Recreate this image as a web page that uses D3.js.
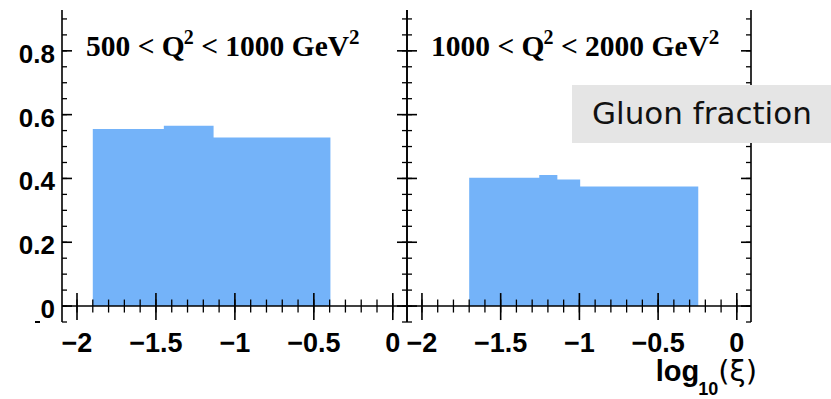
<!DOCTYPE html>
<html>
<head>
<meta charset="utf-8">
<script src="https://cdn.jsdelivr.net/npm/d3@7"></script>
<style>
  html, body { margin: 0; padding: 0; background: #fff; }
  svg { display: block; }
</style>
</head>
<body>
<svg id="chart" width="831" height="399"></svg>
<script>
// Bin edges in log10(xi) and gluon fraction per bin, one pair per Q^2 range
const lowQ2Edges = [-1.90, -1.45, -1.135, -0.395];
const lowQ2Fraction = [0.555, 0.565, 0.528];
const highQ2Edges = [-1.70, -1.255, -1.14, -0.995, -0.245];
const highQ2Fraction = [0.402, 0.411, 0.397, 0.375];

// Panel labels: [low, high] Q^2 bounds in GeV^2
const q2Ranges = [["500", "1000"], ["1000", "2000"]];

const xMajorTicks = [-2, -1.5, -1, -0.5, 0];
const xMinorTicks = d3.range(-20, 1).map(d => d / 10);
const yMajorTicks = [0, 0.2, 0.4, 0.6, 0.8];
const yMinorTicks = d3.range(-1, 19).map(d => d / 20);
const xTickLabels = ["\u22122", "\u22121.5", "\u22121", "\u22120.5", "0"];
const yTickLabels = ["0", "0.2", "0.4", "0.6", "0.8"];

const legendText = "Gluon fraction";
const barColor = "#74b3f9";

const svg = d3.select("#chart");

const xDomain = [-2.095, 0.09];
const y = d3.scaleLinear().domain([-0.05, 0.928]).range([322, 10]);

const panels = [
  { left: 62, right: 407, edges: lowQ2Edges, values: lowQ2Fraction, range: q2Ranges[0] },
  { left: 407, right: 751, edges: highQ2Edges, values: highQ2Fraction, range: q2Ranges[1] }
];

const axisFont = "'Liberation Sans', Arial, Helvetica, sans-serif";
const titleFont = "'Liberation Serif', 'Times New Roman', serif";

panels.forEach((p, i) => {
  const x = d3.scaleLinear().domain(xDomain).range([p.left, p.right]);
  const g = svg.append("g");

  // histogram drawn as one filled step outline so adjacent bins share edges
  const steps = p.values.map((v, k) => [p.edges[k], v]);
  steps.push([p.edges[p.edges.length - 1], p.values[p.values.length - 1]]);
  const area = d3.area()
    .x(d => x(d[0]))
    .y0(y(0))
    .y1(d => y(d[1]))
    .curve(d3.curveStepAfter);
  g.append("path")
    .datum(steps)
    .attr("d", area)
    .attr("fill", barColor);

  // x axis along y = 0 with ticks crossing the line
  const y0 = y(0);
  g.append("line")
    .attr("x1", p.left).attr("x2", p.right)
    .attr("y1", y0).attr("y2", y0)
    .attr("stroke", "#000").attr("stroke-width", 1.6);
  g.selectAll("line.xminor").data(xMinorTicks).join("line")
    .attr("x1", d => x(d)).attr("x2", d => x(d))
    .attr("y1", y0 - 6.5).attr("y2", y0 + 6.5)
    .attr("stroke", "#000").attr("stroke-width", 1.3);
  g.selectAll("line.xmajor").data(xMajorTicks).join("line")
    .attr("x1", d => x(d)).attr("x2", d => x(d))
    .attr("y1", y0 - 13).attr("y2", y0 + 14)
    .attr("stroke", "#000").attr("stroke-width", 1.6);
  g.selectAll("text.xlab").data(xMajorTicks).join("text")
    .attr("x", d => x(d))
    .attr("y", 352)
    .attr("text-anchor", "middle")
    .attr("font-family", axisFont)
    .attr("font-weight", "bold")
    .attr("font-size", 27)
    .text((d, k) => xTickLabels[k]);

  // left and right frame axes, ticks pointing inward
  [[p.left, 1], [p.right, -1]].forEach(([ax, dir]) => {
    g.append("line")
      .attr("x1", ax).attr("x2", ax)
      .attr("y1", y.range()[1]).attr("y2", y.range()[0])
      .attr("stroke", "#000").attr("stroke-width", 1.6);
    g.selectAll(null).data(yMinorTicks).join("line")
      .attr("x1", ax).attr("x2", ax + dir * 5)
      .attr("y1", d => y(d)).attr("y2", d => y(d))
      .attr("stroke", "#000").attr("stroke-width", 1.3);
    g.selectAll(null).data(yMajorTicks).join("line")
      .attr("x1", ax).attr("x2", ax + dir * 10)
      .attr("y1", d => y(d)).attr("y2", d => y(d))
      .attr("stroke", "#000").attr("stroke-width", 1.6);
  });

  // Q^2 range heading
  const t = g.append("text")
    .attr("x", p.left + 24)
    .attr("y", 56)
    .attr("font-family", titleFont)
    .attr("font-weight", "bold")
    .attr("font-size", 29.5);
  t.append("tspan").text(p.range[0] + " < Q");
  t.append("tspan").attr("font-size", 20).attr("dx", -1).attr("dy", -12).text("2");
  t.append("tspan").attr("dy", 12).text(" < " + p.range[1] + " GeV");
  t.append("tspan").attr("font-size", 21).attr("dy", -12).text("2");
});

// y tick labels on the left panel
svg.selectAll("text.ylab").data(yMajorTicks).join("text")
  .attr("x", 55)
  .attr("y", d => y(d) + 12)
  .attr("text-anchor", "end")
  .attr("font-family", axisFont)
  .attr("font-weight", "bold")
  .attr("font-size", 26)
  .text((d, k) => yTickLabels[k]);

// clipped stub of the label below zero
svg.append("line")
  .attr("x1", 35).attr("x2", 40)
  .attr("y1", y(-0.05)).attr("y2", y(-0.05))
  .attr("stroke", "#000").attr("stroke-width", 2);

// x axis title: log10(xi)
const xt = svg.append("text")
  .attr("x", 757)
  .attr("y", 381)
  .attr("text-anchor", "end")
  .attr("font-family", axisFont)
  .attr("font-size", 29);
xt.append("tspan").attr("font-weight", "bold").text("log");
xt.append("tspan").attr("font-weight", "bold").attr("font-size", 18).attr("dx", -1).attr("dy", 14).text("10");
xt.append("tspan").attr("dy", -14).attr("font-family", "'DejaVu Sans', sans-serif").text("(\u03BE)");

// legend box
const lg = svg.append("g");
lg.append("rect")
  .attr("x", 572).attr("y", 85)
  .attr("width", 260).attr("height", 58)
  .attr("fill", "#e5e5e5");
lg.append("text")
  .attr("x", 592).attr("y", 124)
  .attr("font-family", "'DejaVu Sans', sans-serif")
  .attr("font-size", 31)
  .attr("fill", "#111")
  .text(legendText);
</script>
</body>
</html>
